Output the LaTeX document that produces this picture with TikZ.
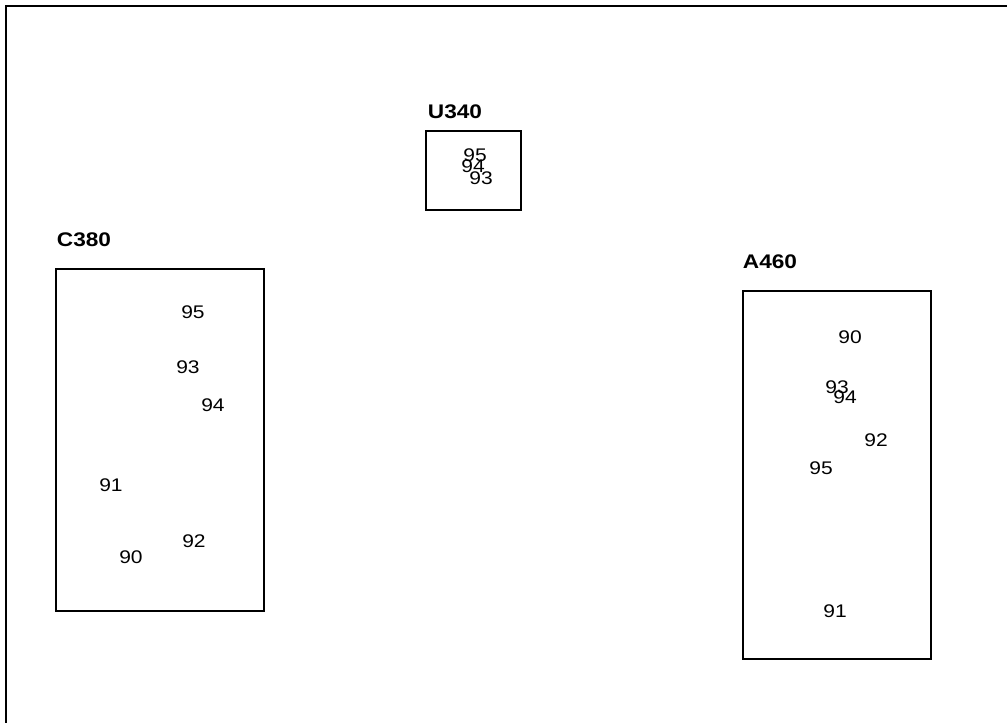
\documentclass[tikz,border=0pt]{standalone}
\usepackage{fontspec}
\setmainfont{Liberation Sans}[FakeStretch=1.15]
\usetikzlibrary{positioning}

\begin{document}
\begin{tikzpicture}[x=0.025cm,y=-0.025cm,
	unitbox/.style={draw,line width=1.2pt,inner sep=0pt},
	unitname/.style={font=\fontsize{14}{16}\selectfont\bfseries,inner sep=0pt},
	posnum/.style={font=\fontsize{13}{15}\selectfont,inner sep=0pt}]
	
	\useasboundingbox (0,0) rectangle (1007,723);
	
	% open frame, top and left only
	\coordinate (frametop) at (1007,6);
	\coordinate (framecorner) at (6,6);
	\coordinate (framebottom) at (6,723);
	\draw[line width=1.4pt] (frametop) -- (framecorner) -- (framebottom);
	
	% boxes
	\node[unitbox,minimum width=2.375cm,minimum height=1.975cm] (u340) at (473.5,170.5) {};
	\node[unitbox,minimum width=5.2cm,minimum height=8.55cm] (c380) at (160,440) {};
	\node[unitbox,minimum width=4.7cm,minimum height=9.2cm] (a460) at (837,475) {};
	
	\node[unitname] (u340name) at (455,112) {U340};
	\node[unitname] (c380name) at (84,240) {C380};
	\node[unitname] (a460name) at (770,262) {A460};
	
	% U340
	\node[posnum] (u95) at (475,155) {95};
	\node[posnum] (u94) at (473,166) {94};
	\node[posnum] (u93) at (481,178) {93};
	
	% C380
	\node[posnum] (c95) at (193,312) {95};
	\node[posnum] (c93) at (188,367) {93};
	\node[posnum] (c94) at (213,405) {94};
	\node[posnum] (c91) at (111,485) {91};
	\node[posnum] (c92) at (194,541) {92};
	\node[posnum] (c90) at (131,557) {90};
	
	% A460
	\node[posnum] (a90) at (850,337) {90};
	\node[posnum] (a93) at (837,387) {93};
	\node[posnum] (a94) at (845,397) {94};
	\node[posnum] (a92) at (876,440) {92};
	\node[posnum] (a95) at (821,468) {95};
	\node[posnum] (a91) at (835,611) {91};
	
\end{tikzpicture}
\end{document}
